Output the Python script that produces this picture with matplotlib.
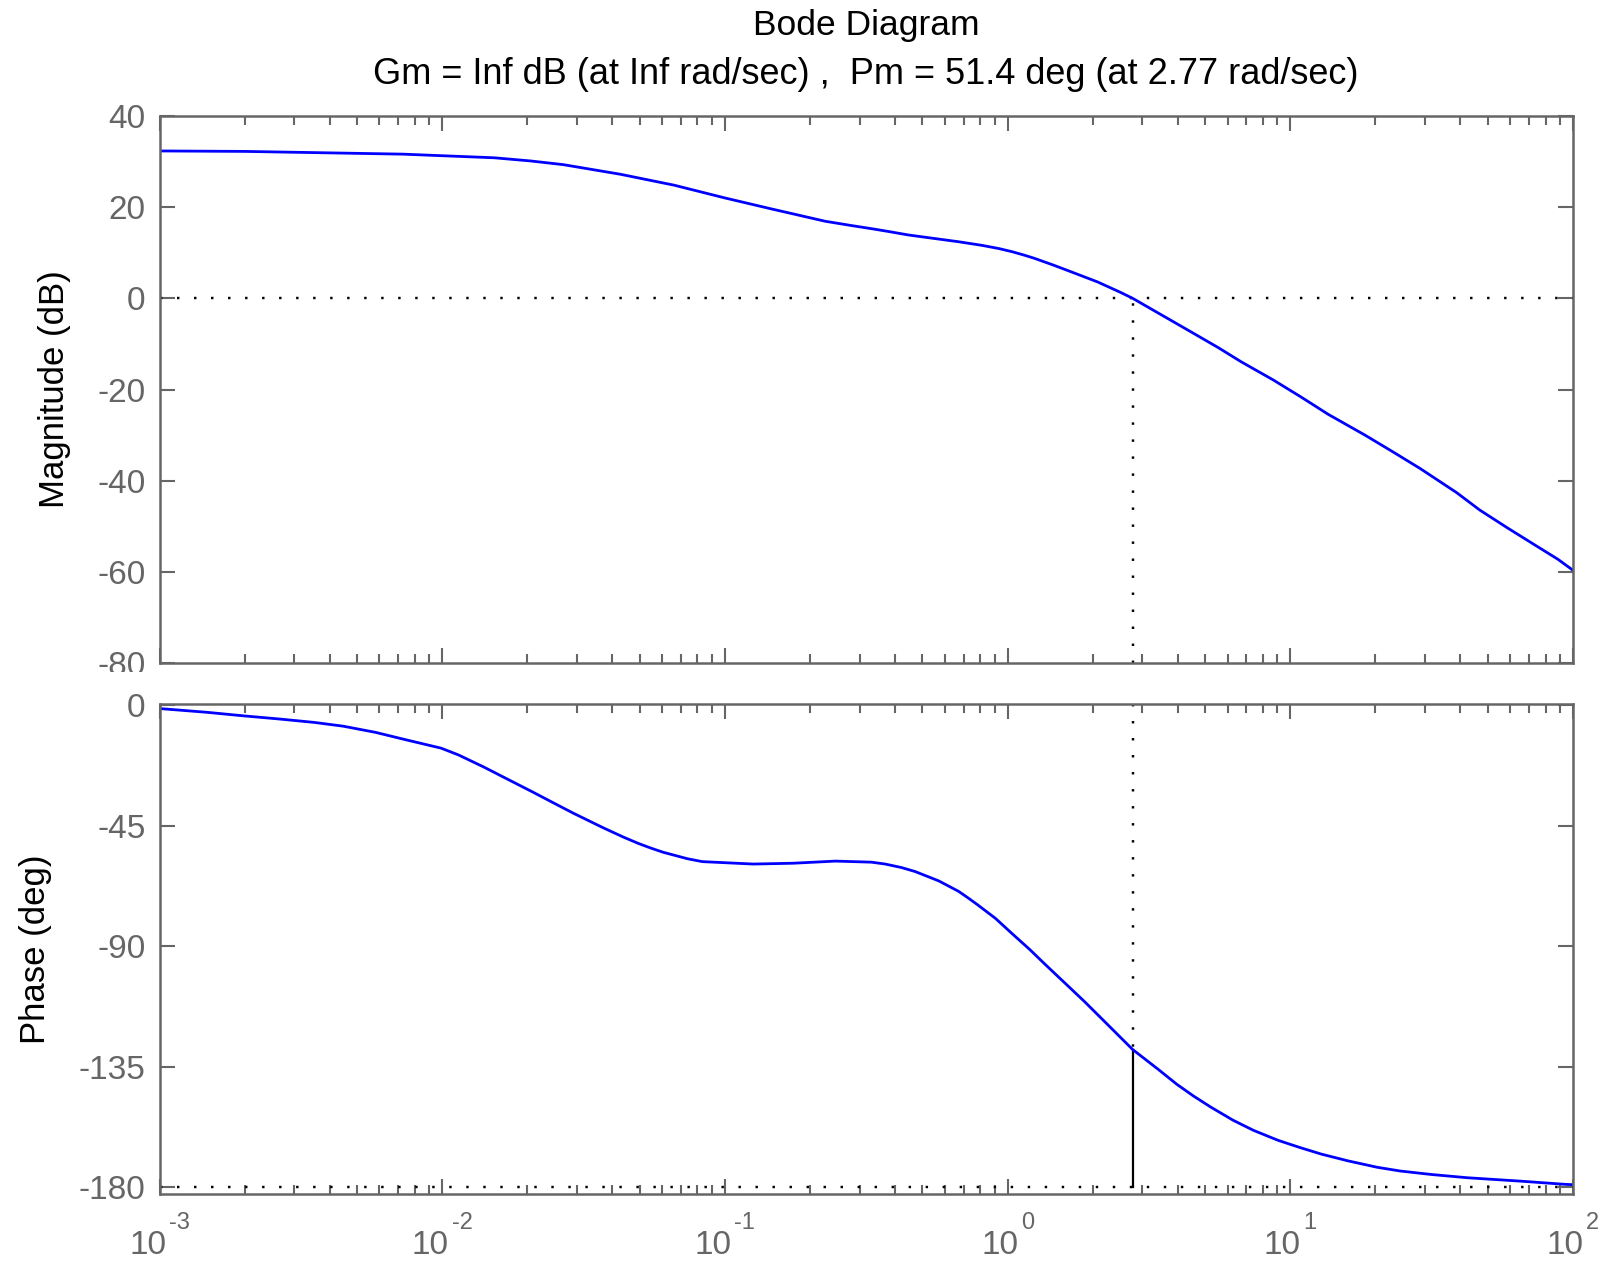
"""
Bode 图 (幅值 + 相位), 按参考图重画
"""
import numpy as np
import matplotlib
matplotlib.use('Agg')
import matplotlib.pyplot as plt
from matplotlib.ticker import LogLocator, NullFormatter
from matplotlib.transforms import Bbox, TransformedBbox

plt.rcParams['font.family'] = ['Liberation Sans', 'DejaVu Sans']
plt.rcParams['axes.unicode_minus'] = False

# 幅值曲线 (rad/sec, dB)
mag_w = [0.001, 0.002, 0.00724, 0.0153, 0.0206, 0.0268, 0.0426, 0.0661, 0.100,
         0.146, 0.226, 0.277, 0.335, 0.383, 0.444, 0.538, 0.671, 0.813, 0.933,
         1.04, 1.14, 1.24, 1.45, 1.68, 2.08, 2.51, 2.77, 4.44, 5.56, 6.70, 8.71,
         10.9, 13.6, 18.4, 23.0, 28.8, 38.8, 46.8, 58.6, 73.5, 88.5, 100.0]
mag_db = [32.3, 32.2, 31.6, 30.8, 30.1, 29.3, 27.2, 24.8, 22.0,
          19.6, 16.9, 16.0, 15.2, 14.6, 13.9, 13.2, 12.4, 11.6, 10.9,
          10.2, 9.5, 8.8, 7.3, 5.8, 3.6, 1.3, 0.0, -7.3, -10.8, -13.9, -17.9,
          -21.6, -25.4, -30.0, -33.6, -37.3, -42.6, -46.4, -50.3, -54.1, -57.2, -59.6]

# 相位曲线 (rad/sec, deg)
phase_w = [0.001, 0.00147, 0.00197, 0.00265, 0.00354, 0.00447, 0.00581, 0.00746,
           0.00991, 0.0114, 0.0140, 0.0177, 0.0210, 0.0246, 0.0291, 0.0321, 0.0372,
           0.0439, 0.0497, 0.0546, 0.0605, 0.0736, 0.0832, 0.126, 0.174, 0.246,
           0.330, 0.369, 0.421, 0.471, 0.571, 0.671, 0.726, 0.785, 0.906, 1.03,
           1.20, 1.34, 1.50, 1.68, 1.88, 2.26, 2.77, 3.41, 3.97, 4.55, 5.25, 6.27,
           7.41, 9.04, 10.8, 12.9, 16.0, 20.3, 24.5, 31.6, 42.2, 65.6, 94.6, 100.0]
phase_deg = [-1.2, -2.6, -3.9, -5.1, -6.4, -7.8, -10.1, -12.9,
             -16.0, -18.5, -23.0, -28.5, -32.5, -36.3, -40.3, -42.5, -45.8,
             -49.3, -51.7, -53.3, -54.9, -57.3, -58.4, -59.3, -59.0, -58.2,
             -58.6, -59.3, -60.6, -62.1, -65.6, -69.5, -72.0, -74.6, -79.6, -85.0,
             -91.3, -96.2, -101.1, -106.0, -110.9, -119.3, -128.6, -136.0, -141.6, -146.0, -150.2, -155.0,
             -158.8, -162.5, -165.2, -167.7, -170.2, -172.6, -174.0, -175.3, -176.5, -177.8, -179.0, -179.1]

# 裕度
wc = 2.77
pm = 51.4

title_lines = ['Bode Diagram',
               'Gm = Inf dB (at Inf rad/sec) ,  Pm = 51.4 deg (at 2.77 rad/sec)']
mag_ticks = [40, 20, 0, -20, -40, -60, -80]
phase_ticks = [0, -45, -90, -135, -180]
x_exponents = ['-3', '-2', '-1', '0', '1', '2']

GRAY = '#666666'
DOT = (0, (1, 6))

fig = plt.figure(figsize=(16.08, 12.63), dpi=100)
ax_mag = fig.add_axes([0.0992, 0.4748, 0.8790, 0.4335])
ax_ph = fig.add_axes([0.0992, 0.0546, 0.8790, 0.3880])


def style_axis(ax):
    ax.set_xscale('log')
    ax.set_xlim(1e-3, 1e2)
    for s in ax.spines.values():
        s.set_color(GRAY)
        s.set_linewidth(1.8)
    ax.xaxis.set_major_locator(LogLocator(base=10, numticks=10))
    ax.xaxis.set_minor_locator(LogLocator(base=10, subs=np.arange(2, 10), numticks=10))
    ax.xaxis.set_minor_formatter(NullFormatter())
    ax.tick_params(which='both', direction='in', top=True, right=True,
                   colors=GRAY, width=1.5, labelsize=24, pad=10)
    ax.tick_params(which='major', length=11)
    ax.tick_params(which='minor', length=6.5)
    ax.tick_params(axis='x', labelbottom=False)
    ax.tick_params(axis='y', which='minor', left=False, right=False)


style_axis(ax_mag)
style_axis(ax_ph)

# 幅值图
ax_mag.axhline(0, color='k', ls=DOT, lw=1.75)
ax_mag.plot([wc, wc], [-80, 0], color='k', ls=DOT, lw=1.75)
ax_mag.plot(mag_w, mag_db, color='#0000ff', lw=2.0)
ax_mag.set_ylim(-80, 40)
ax_mag.set_yticks(mag_ticks)
ax_mag.set_ylabel('Magnitude (dB)', fontsize=25, labelpad=19)

# 相位图
ph_top = 0.5
ax_ph.axhline(-180, color='k', ls=DOT, lw=1.75)
ax_ph.plot([wc, wc], [ph_top, -180 + pm], color='k', ls=DOT, lw=1.75)
ax_ph.plot([wc, wc], [-180 + pm, -180], color='k', lw=1.6)
ax_ph.plot(phase_w, phase_deg, color='#0000ff', lw=2.0)
ax_ph.set_ylim(-182.6, ph_top)
ax_ph.set_yticks(phase_ticks)
ax_ph.set_ylabel('Phase (deg)', fontsize=25, labelpad=19)

# -80 标签在参考图中下半部分被截掉
fig.canvas.draw()
clip = TransformedBbox(Bbox([[0, 1 - 672 / 1263], [1, 1]]), fig.transFigure)
for lab in ax_mag.get_yticklabels():
    if lab.get_text() == '-80':
        lab.set_clip_box(clip)
        lab.set_clip_on(True)

# x 轴标签: 10 加上标
char_w = {'-': 0.333}
for e in x_exponents:
    wb = 1.112 * 24
    we = sum(char_w.get(c, 0.556) for c in e) * 17
    g = 2.0
    right = (wb - g - we) / 2
    ax_ph.annotate('10', xy=(10.0 ** int(e), 0), xycoords=('data', 'axes fraction'),
                   xytext=(right, -26), textcoords='offset points',
                   ha='right', va='top', fontsize=24, color=GRAY, annotation_clip=False)
    ax_ph.annotate(e, xy=(10.0 ** int(e), 0), xycoords=('data', 'axes fraction'),
                   xytext=(right + g, -12.7), textcoords='offset points',
                   ha='left', va='top', fontsize=17, color=GRAY, annotation_clip=False)

# 标题
xc = 0.0992 + 0.8790 / 2
fig.text(xc, 1 - 26 / 1263, title_lines[0], ha='center', va='center', fontsize=25.5)
fig.text(xc, 1 - 74 / 1263, title_lines[1], ha='center', va='center', fontsize=26)

fig.savefig('out.png', dpi=100)
